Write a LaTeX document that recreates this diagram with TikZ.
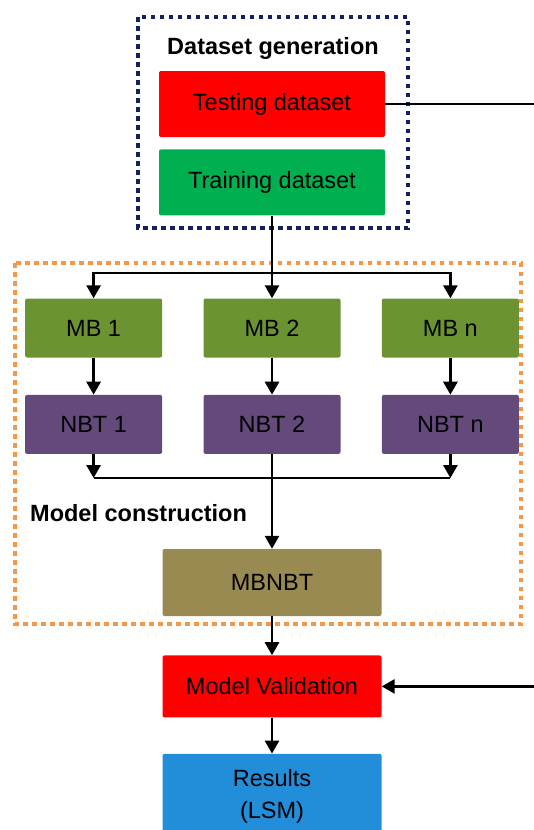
\documentclass[tikz,border=0pt]{standalone}
\usepackage{fontspec}
\setmainfont{Liberation Sans}
\usepackage{xcolor}
\usepackage{tikz}
\usetikzlibrary{arrows.meta, positioning}

\definecolor{valred}{HTML}{FF0000}
\definecolor{traingreen}{HTML}{00B050}
\definecolor{mbgreen}{HTML}{6B9331}
\definecolor{nbtpurple}{HTML}{644A7B}
\definecolor{mixolive}{HTML}{988A50}
\definecolor{resblue}{HTML}{228ED9}
\definecolor{gennavy}{HTML}{13225E}
\definecolor{conorange}{HTML}{F79646}

\begin{document}
\begin{tikzpicture}[
    x=1pt, y=-1pt,
    node distance=37pt,
    box/.style={rectangle, rounded corners=2pt, minimum width=137pt, minimum height=59pt, inner sep=0pt, align=center, font=\fontsize{23.5}{32}\selectfont},
    wide/.style={box, minimum width=226pt, minimum height=66pt},
    mid/.style={box, minimum width=219pt, minimum height=64pt},
    heading/.style={font=\fontsize{23.5}{28}\selectfont\bfseries, inner sep=0pt},
    frame/.style={line width=4.5pt, dash pattern=on 4.5pt off 4.5pt},
    arrow/.style={-{Triangle[length=13pt,width=14pt]}, line width=2.8pt},
    link/.style={line width=2.8pt}
]
\useasboundingbox (0,0) rectangle (533,830);

% dataset generation
\draw[frame, gennavy] (138,17) rectangle (408,228);
\node[heading] (gentitle) at (273,48) {Dataset generation};
\node[wide, fill=valred] (test) at (272,104) {Testing dataset};
\node[wide, fill=traingreen, below=12pt of test] (train) {Training dataset};

% model construction
\draw[frame, conorange] (15,263) rectangle (521,624);
\node[box, fill=mbgreen] (mb2) at (272,328) {MB 2};
\node[box, fill=mbgreen, left=41pt of mb2] (mb1) {MB 1};
\node[box, fill=mbgreen, right=41pt of mb2] (mbn) {MB n};
\node[box, fill=nbtpurple, below=of mb1] (nbt1) {NBT 1};
\node[box, fill=nbtpurple, below=of mb2] (nbt2) {NBT 2};
\node[box, fill=nbtpurple, below=of mbn] (nbtn) {NBT n};
\node[heading, anchor=west] (contitle) at (30,513) {Model construction};
\node[mid, fill=mixolive, minimum height=67pt] (mbnbt) at (272,582.5) {MBNBT};

% validation
\node[mid, fill=valred, minimum height=62pt, below=39pt of mbnbt] (val) {Model Validation};
\node[mid, fill=resblue, minimum height=86pt, below=36pt of val] (res) {Results\\(LSM)};

\coordinate (split) at (272,273);
\coordinate (merge) at (272,478);
\coordinate (back) at (541,104);

\draw[link] (train.south) -- (split);
\draw[arrow] (split) -| (mb1.north);
\draw[arrow] (split) -- (mb2.north);
\draw[arrow] (split) -| (mbn.north);
\draw[arrow] (mb1) -- (nbt1);
\draw[arrow] (mb2) -- (nbt2);
\draw[arrow] (mbn) -- (nbtn);
\draw[arrow] (nbt1.south) -- (nbt1.south |- merge);
\draw[arrow] (nbtn.south) -- (nbtn.south |- merge);
\draw[link] (nbt1.south |- merge) -- (nbtn.south |- merge);
\draw[arrow] (nbt2) -- (mbnbt);
\draw[arrow] (mbnbt) -- (val);
\draw[arrow] (val) -- (res);
\draw[arrow] (test.east) -- (back) |- (val.east);

\end{tikzpicture}
\end{document}
